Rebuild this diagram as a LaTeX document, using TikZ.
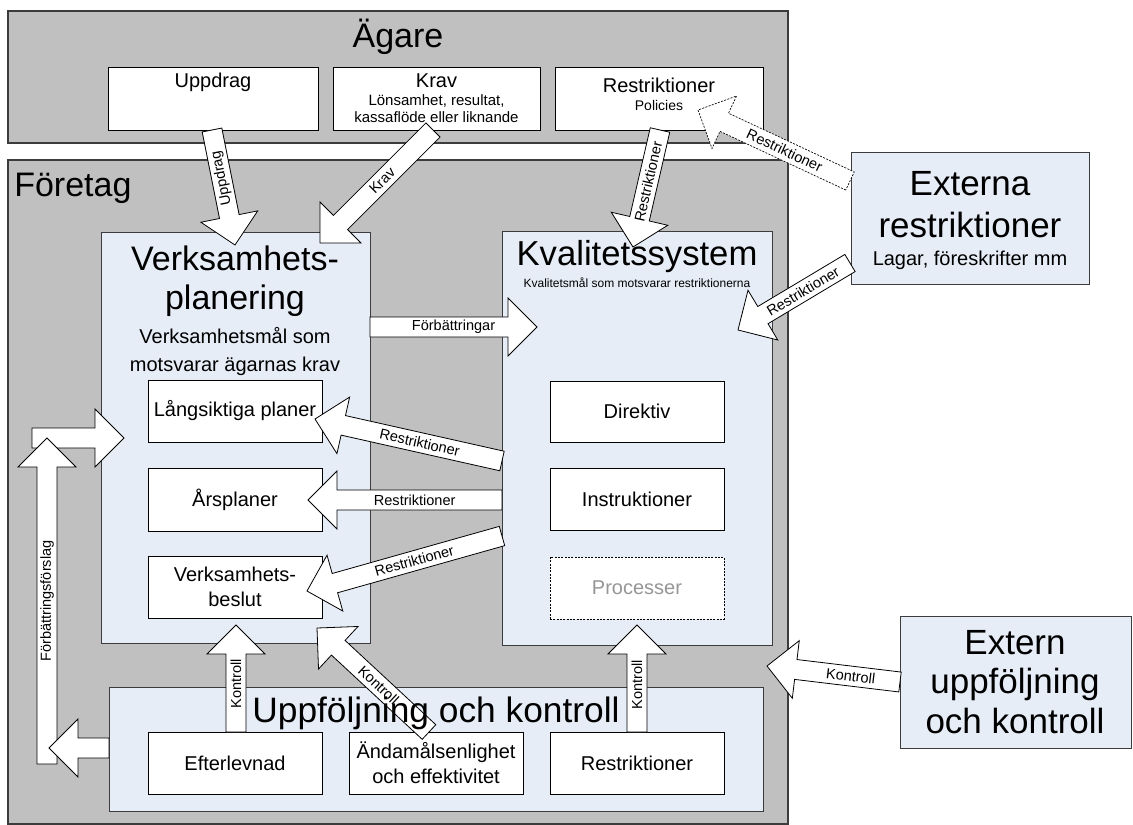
\documentclass[tikz,border=0pt]{standalone}
\usepackage{fontspec}
\setmainfont{Liberation Sans}
\usetikzlibrary{calc}
\definecolor{grayfill}{RGB}{192,192,192}
\definecolor{bluefill}{RGB}{231,237,247}
\definecolor{edge}{RGB}{60,60,60}
\definecolor{ghost}{RGB}{150,150,150}
\newcommand\fs[1]{\fontsize{#1}{#1}\selectfont}
\newcommand\fstwo{\fontsize{15}{18.75}\selectfont}
% rectangle node from corners: #1 options, #2 name, #3..#6 corners x1,y1,x2,y2 (px), #7 text
\newcommand\boxnode[7][]{%
  \pgfmathsetmacro\bw{(#5-#3)*0.75}\pgfmathsetmacro\bh{(#6-#4)*0.75}%
  \node[#1, minimum width=\bw pt, minimum height=\bh pt, anchor=center] (#2) at ({(#3+#5)/2},{(#4+#6)/2}) {#7};%
}
% block arrow: #1 extra draw options, #2 start, #3 end, #4 label, #5 label options
\newcommand\barrow[5][]{%
  \coordinate (hb) at ($(#3)!21.75pt!(#2)$);
  \draw[blockarrow,#1] ($(#2)!7.5pt!90:(#3)$) -- ($(hb)!7.5pt!90:(#3)$) -- ($(hb)!21.75pt!90:(#3)$) -- (#3)
     -- ($(hb)!21.75pt!-90:(#3)$) -- ($(hb)!7.5pt!-90:(#3)$) -- ($(#2)!7.5pt!-90:(#3)$) -- cycle;
  \path (#2) -- (#3) node[arrowlabel,#5] {#4};
}
\begin{document}
\begin{tikzpicture}[x=0.75pt,y=-0.75pt,
  outer/.style={draw=edge, line width=0.9pt, fill=grayfill, inner sep=0pt},
  panel/.style={draw=edge, line width=0.7pt, fill=bluefill, inner sep=0pt},
  card/.style={draw=black, line width=0.6pt, fill=white, inner sep=0pt, align=center, font=\fs{15}},
  ghostcard/.style={draw=black, line width=0.5pt, dash pattern=on 1.5pt off 1pt, fill=white, inner sep=0pt, align=center, font=\fs{15}, text=ghost},
  blockarrow/.style={draw=black, line width=0.6pt, fill=white, line join=miter},
  arrowlabel/.style={sloped, inner sep=0pt, font=\fs{10.9}},
  big/.style={font=\fs{25.5}, inner sep=0pt, anchor=base},
  mid/.style={font=\fs{15}, inner sep=0pt, anchor=base},
]
\useasboundingbox (0,0) rectangle (1133,825);

% outer areas
\boxnode[outer]{agare}{8}{11}{788}{143}{}
\node[big] (agaretxt) at (398,47) {Ägare};
\boxnode[outer]{foretag}{8}{160}{788}{824}{}
\node[big, anchor=base west] (foretagtxt) at (14,196) {Företag};

% owner cards
\boxnode[card]{uppdrag}{108}{67}{318}{130}{}
\node[mid] (uppdragtxt) at (213,87) {Uppdrag};
\boxnode[card]{krav}{333}{67}{540}{130}{}
\node[mid] (kravtxt) at (436.5,87) {Krav};
\node[mid, font=\fs{11.25}] (kravsub1) at (436.5,105) {Lönsamhet, resultat,};
\node[mid, font=\fs{11.25}] (kravsub2) at (436.5,122) {kassaflöde eller liknande};
\boxnode[card]{restr}{555}{67}{763}{130}{}
\node[mid] (restrtxt) at (659,92) {Restriktioner};
\node[mid, font=\fs{10.5}] (restrsub) at (659,110) {Policies};

% external boxes
\boxnode[panel]{externa}{851}{152}{1089}{284}{}
\node[big, font=\fs{26.25}] (externa1) at (970,195) {Externa};
\node[big, font=\fs{26.25}] (externa2) at (970,237) {restriktioner};
\node[mid] (externa3) at (970,265) {Lagar, föreskrifter mm};
\boxnode[panel]{extern}{900}{616}{1131}{748}{}
\node[big, font=\fs{26.25}] (extern1) at (1015,654) {Extern};
\node[big, font=\fs{26.25}] (extern2) at (1015,693) {uppföljning};
\node[big, font=\fs{26.25}] (extern3) at (1015,733) {och kontroll};

% company panels
\boxnode[panel]{vp}{101}{232}{370}{643}{}
\boxnode[panel]{ks}{502}{231}{772}{645}{}
\boxnode[panel]{uk}{109}{687}{763}{811}{}

% inner cards
\boxnode[card]{lang}{148}{380}{322}{442}{Långsiktiga planer}
\boxnode[card]{ars}{148}{468}{322}{531}{Årsplaner}
\boxnode[card, font=\fstwo]{beslut}{148}{556}{322}{618}{Verksamhets-\\beslut}
\boxnode[card]{direktiv}{550}{381}{724}{442}{Direktiv}
\boxnode[card]{instr}{550}{468}{724}{530}{Instruktioner}
\boxnode[ghostcard]{proc}{550}{557}{724}{619}{Processer}
\boxnode[card]{efter}{148}{732}{322}{794}{Efterlevnad}
\boxnode[card, font=\fstwo]{andamal}{349}{732}{523}{794}{Ändamålsenlighet\\och effektivitet}
\boxnode[card]{urestr}{550}{732}{724}{794}{Restriktioner}

% arrow end points
\coordinate (uppA) at (212,130);   \coordinate (uppB) at (235,245);
\coordinate (kravA) at (433,130);  \coordinate (kravB) at (320,243);
\coordinate (resA) at (660,130);   \coordinate (resB) at (633,247);
\coordinate (exA) at (850,181);    \coordinate (exB) at (698,110);
\coordinate (exkA) at (850,263);   \coordinate (exkB) at (738,330);
\coordinate (forbA) at (370,327);  \coordinate (forbB) at (537,327);
\coordinate (langA) at (502,461);  \coordinate (langB) at (315,419);
\coordinate (arsA) at (502,500);   \coordinate (arsB) at (308,500);
\coordinate (besA) at (502,536);   \coordinate (besB) at (307,591);
\coordinate (k1A) at (236,732);    \coordinate (k1B) at (236,625);
\coordinate (k2A) at (429,732);    \coordinate (k2B) at (317,628);
\coordinate (k3A) at (637,732);    \coordinate (k3B) at (637,625);
\coordinate (k4A) at (900,682);    \coordinate (k4B) at (767,666);
\coordinate (fbA) at (32,438);     \coordinate (fbB) at (124,438);
\coordinate (ffA) at (47,764);     \coordinate (ffB) at (47,438);
\coordinate (ukA) at (109,748);    \coordinate (ukB) at (49,748);

% arrows
\barrow{uppA}{uppB}{Uppdrag}{pos=0.42, rotate=180, name=lupp}
\barrow{kravA}{kravB}{Krav}{pos=0.45, name=lkrav}
\barrow{resA}{resB}{Restriktioner}{pos=0.44, name=lres}
\barrow[dash pattern=on 1.5pt off 1pt, line width=0.5pt]{exA}{exB}{Restriktioner}{pos=0.43, name=lex}
\barrow{exkA}{exkB}{Restriktioner}{pos=0.42, name=lexk}
\barrow{forbA}{forbB}{Förbättringar}{pos=0.5, name=lforb}
\barrow{langA}{langB}{Restriktioner}{pos=0.44, name=llang}
\barrow{arsA}{arsB}{Restriktioner}{pos=0.45, name=lars}
\barrow{besA}{besB}{Restriktioner}{pos=0.45, name=lbes}
\barrow{k1A}{k1B}{Kontroll}{pos=0.45, name=lk1}
\barrow{k2A}{k2B}{Kontroll}{pos=0.45, name=lk2}
\barrow{k3A}{k3B}{Kontroll}{pos=0.44, name=lk3}
\barrow{k4A}{k4B}{Kontroll}{pos=0.37, name=lk4}
\barrow{fbA}{fbB}{}{pos=0.5, name=lfb}
\barrow{ffA}{ffB}{Förbättringsförslag}{pos=0.5, name=lff}
\barrow{ukA}{ukB}{}{pos=0.5, name=luk}

% panel titles (on top of arrows)
\node[big, font=\fs{25.5}] (vp1) at (235,270) {Verksamhets-};
\node[big, font=\fs{25.5}] (vp2) at (235,309) {planering};
\node[mid] (vp3) at (235,343) {Verksamhetsmål som};
\node[mid] (vp4) at (235,371) {motsvarar ägarnas krav};
\node[big, font=\fs{26}] (ks1) at (637,265) {Kvalitetssystem};
\node[mid, font=\fs{9}] (ks2) at (637,287) {Kvalitetsmål som motsvarar restriktionerna};
\node[big, font=\fs{26.5}] (uk1) at (436,722) {Uppföljning och kontroll};
\end{tikzpicture}
\end{document}
